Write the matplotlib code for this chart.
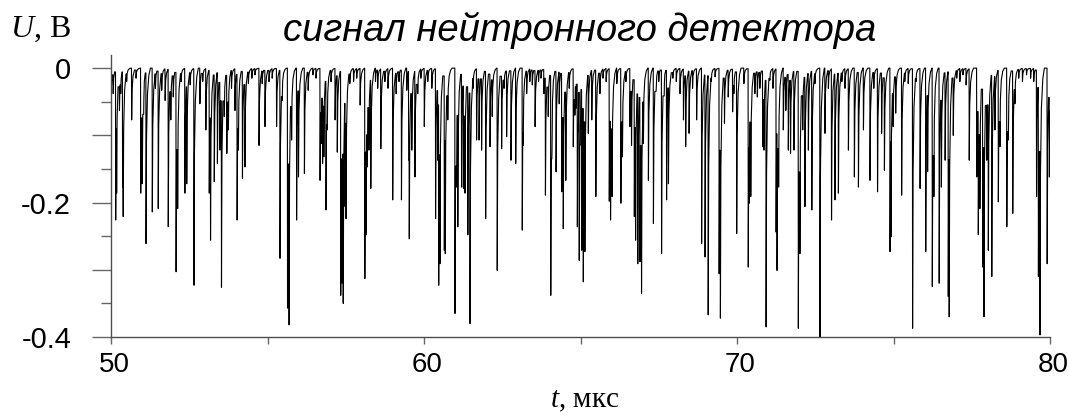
import matplotlib
matplotlib.use('Agg')
import matplotlib.pyplot as plt
import matplotlib.transforms as mtransforms
import numpy as np

plt.rcParams['font.family'] = ['Liberation Sans', 'DejaVu Sans']
plt.rcParams['mathtext.fontset'] = 'custom'
plt.rcParams['mathtext.rm'] = 'Liberation Serif'
plt.rcParams['mathtext.it'] = 'Liberation Serif:italic'

# ===== данные: моменты импульсов (мкс) и их амплитуды (В) =====
spike_t = [
    50.00, 50.07, 50.15, 50.18, 50.27, 50.31, 50.37, 50.39, 50.66, 50.95,
    51.00, 51.05, 51.12, 51.32, 51.51, 51.62, 51.73, 51.83, 51.91, 51.99,
    52.08, 52.13, 52.36, 52.42, 52.65, 52.84,
    53.03, 53.14, 53.18, 53.30, 53.40, 53.48, 53.53, 53.62, 53.70, 53.75,
    53.96, 54.03, 54.07, 54.20, 54.28, 54.39, 54.73, 54.83, 54.92, 55.29,
    55.40, 55.47, 55.64, 55.69, 55.77, 55.93, 55.99, 56.18, 56.30,
    56.68, 56.72, 56.76, 56.80, 56.87, 56.91, 57.16, 57.23, 57.34, 57.39,
    57.42, 57.48, 57.51, 57.63, 57.75, 57.85, 57.96, 58.11, 58.15, 58.19,
    58.24, 58.30, 58.45, 58.62, 58.75, 58.85, 59.00, 59.11, 59.28, 59.45,
    59.51, 59.53, 59.61, 59.71,
    59.80, 60.01, 60.37, 60.44, 60.47, 60.51, 60.65, 60.68, 60.76, 60.99,
    61.04, 61.08, 61.20, 61.26, 61.31, 61.40, 61.47, 61.68, 61.76, 61.84,
    61.97, 62.11, 62.18, 62.34, 62.48, 62.64, 62.78, 62.93, 63.14,
    63.17, 63.28, 63.55, 63.83, 63.88, 63.97, 64.05, 64.09, 64.22, 64.32,
    64.40, 64.45, 64.53, 64.77, 64.82, 64.85, 64.90, 64.93, 64.96, 65.00,
    65.04, 65.07, 65.09, 65.12, 65.14, 65.25, 65.36, 65.49, 65.62, 65.92,
    65.96, 66.01, 66.16, 66.29, 66.34,
    66.58, 66.63, 66.72, 66.76, 66.83, 66.90, 66.95, 67.01, 67.17, 67.33,
    67.59, 67.68, 67.75, 67.81, 68.18, 68.29, 68.36, 68.47, 68.71, 68.87,
    68.98, 69.08, 69.30, 69.43, 69.47, 69.60, 69.72,
    69.86, 69.90, 69.99, 70.22, 70.36, 70.39, 70.44, 70.57, 70.65, 70.82,
    70.86, 70.93, 71.05, 71.25, 71.28, 71.33, 71.48, 71.56, 71.64, 71.71,
    71.82, 71.96, 72.01, 72.10, 72.17, 72.28, 72.39, 72.49, 72.65, 72.81,
    72.92, 73.02, 73.13,
    73.24, 73.56, 73.75, 73.88, 74.04, 74.25, 74.49, 74.62, 74.71, 74.89,
    74.92, 74.99, 75.07, 75.26, 75.47, 75.61, 75.85, 76.03, 76.09, 76.24,
    76.29, 76.46, 76.53,
    76.65, 76.75, 76.78, 76.91, 77.42, 77.66, 77.71, 77.76, 77.85, 77.89,
    77.98, 78.03, 78.14, 78.24, 78.35, 78.40, 78.62, 78.67, 78.81, 78.88,
    79.57, 79.63, 79.68, 79.91, 79.98,
]
spike_u = [
    -0.067, -0.038, -0.226, -0.186, -0.063, -0.038, -0.177, -0.221, -0.077, -0.186,
    -0.172, -0.048, -0.261, -0.214, -0.209, -0.033, -0.048, -0.236, -0.077, -0.043,
    -0.303, -0.209, -0.186, -0.172, -0.323, -0.053,
    -0.092, -0.186, -0.256, -0.169, -0.142, -0.122, -0.326, -0.072, -0.127, -0.092,
    -0.063, -0.226, -0.122, -0.164, -0.147, -0.023, -0.115, -0.023, -0.087, -0.087,
    -0.283, -0.048, -0.357, -0.382, -0.107, -0.226, -0.162, -0.157, -0.033,
    -0.167, -0.112, -0.142, -0.132, -0.211, -0.092, -0.077, -0.125, -0.338, -0.320,
    -0.350, -0.206, -0.224, -0.023, -0.020, -0.015, -0.055, -0.313, -0.248, -0.147,
    -0.122, -0.179, -0.020, -0.120, -0.020, -0.030, -0.196, -0.038, -0.196, -0.033,
    -0.137, -0.254, -0.122, -0.162,
    -0.038, -0.087, -0.224, -0.137, -0.323, -0.291, -0.271, -0.276, -0.077, -0.365,
    -0.177, -0.236, -0.177, -0.179, -0.186, -0.248, -0.380, -0.107, -0.107, -0.122,
    -0.224, -0.117, -0.072, -0.301, -0.120, -0.102, -0.137, -0.142, -0.241,
    -0.115, -0.038, -0.087, -0.038, -0.189, -0.072, -0.338, -0.122, -0.154, -0.053,
    -0.184, -0.239, -0.167, -0.117, -0.070, -0.060, -0.236, -0.090, -0.286, -0.080,
    -0.271, -0.060, -0.318, -0.080, -0.273, -0.097, -0.077, -0.191, -0.038, -0.198,
    -0.226, -0.191, -0.023, -0.201, -0.132,
    -0.087, -0.115, -0.221, -0.256, -0.291, -0.288, -0.335, -0.112, -0.167, -0.231,
    -0.276, -0.023, -0.196, -0.172, -0.038, -0.077, -0.117, -0.097, -0.077, -0.261,
    -0.281, -0.367, -0.013, -0.306, -0.372, -0.082, -0.043,
    -0.065, -0.038, -0.246, -0.023, -0.296, -0.201, -0.191, -0.038, -0.043, -0.117,
    -0.122, -0.385, -0.018, -0.244, -0.301, -0.177, -0.092, -0.063, -0.122, -0.127,
    -0.122, -0.387, -0.276, -0.092, -0.206, -0.122, -0.211, -0.023, -0.400, -0.097,
    -0.030, -0.226, -0.196,
    -0.186, -0.122, -0.162, -0.177, -0.092, -0.167, -0.184, -0.097, -0.152, -0.273,
    -0.251, -0.087, -0.067, -0.189, -0.023, -0.387, -0.179, -0.273, -0.154, -0.325,
    -0.191, -0.320, -0.177,
    -0.137, -0.340, -0.370, -0.100, -0.137, -0.162, -0.248, -0.209, -0.296, -0.370,
    -0.137, -0.271, -0.310, -0.092, -0.199, -0.117, -0.236, -0.107, -0.216, -0.053,
    -0.191, -0.310, -0.397, -0.291, -0.162,
]

# мелкие импульсы у нулевой линии (между крупными)
small_t = [
    50.50, 50.80, 51.42, 52.24, 52.53, 52.93, 53.85, 54.50, 54.60, 55.05,
    55.15, 56.45, 56.55, 57.03, 58.52, 59.20, 59.90, 60.12, 60.25, 61.57,
    62.56, 63.38, 63.46, 63.66, 63.74, 64.64, 65.72, 65.82, 66.45, 67.42,
    67.50, 67.95, 68.06, 68.58, 69.18, 70.73, 71.15, 73.35, 73.45, 74.37,
    75.36, 75.72, 77.02, 77.12, 77.22, 77.32, 79.00, 79.12, 79.25, 79.38,
    79.48,
]
small_u = [
    -0.020, -0.015, -0.030, -0.020, -0.025, -0.020, -0.030, -0.015, -0.010, -0.020,
    -0.015, -0.010, -0.015, -0.020, -0.030, -0.020, -0.015, -0.020, -0.030, -0.030,
    -0.030, -0.020, -0.025, -0.020, -0.015, -0.030, -0.015, -0.020, -0.020, -0.030,
    -0.020, -0.015, -0.020, -0.030, -0.020, -0.030, -0.030, -0.020, -0.030, -0.030,
    -0.020, -0.020, -0.015, -0.020, -0.010, -0.025, -0.015, -0.020, -0.010, -0.015,
    -0.020,
]

x_ticks = [50, 55, 60, 65, 70, 75, 80]
x_labels = ['50', '', '60', '', '70', '', '80']
y_ticks = [0, -0.1, -0.2, -0.3, -0.4]
y_labels = ['0', '', '-0.2', '', '-0.4']
y_minor = [-0.05, -0.15, -0.25, -0.35]

# ---- ломаная сигнала: резкий спад, затем медленное восстановление к нулю ----
all_t = np.array(spike_t + small_t)
all_u = np.array(spike_u + small_u)
order = np.argsort(all_t)
all_t, all_u = all_t[order], all_u[order]

pts_t, pts_u = [], []
n = len(all_t)
for i in range(n):
    t0, u0 = all_t[i], all_u[i]
    limit = all_t[i + 1] - 0.006 if i + 1 < n else 80.0
    if pts_t and pts_t[-1] < t0 - 0.006:
        pts_t.append(t0 - 0.006)
        pts_u.append(pts_u[-1])
    seg = [(t0, u0), (t0 + 0.015, 0.4 * u0), (t0 + 0.045, 0.15 * u0),
           (t0 + 0.09, 0.04 * u0), (t0 + 0.14, 0.0)]
    for k, (tt, uu) in enumerate(seg):
        if k == 0 or tt < limit:
            pts_t.append(min(tt, 80.0))
            pts_u.append(uu)
pts_t.append(80.0)
pts_u.append(pts_u[-1])

fig = plt.figure(figsize=(10.69, 4.15), dpi=100)
ax = fig.add_axes([111 / 1069, 78 / 415, 939 / 1069, 282 / 415])
ax.plot(pts_t, pts_u, color='black', linewidth=0.8)

ax.set_xlim(50, 80)
ax.set_ylim(-0.4, 0.0195)
for s in ['top', 'right']:
    ax.spines[s].set_visible(False)
for s in ['left', 'bottom']:
    ax.spines[s].set_color('0.3')
    ax.spines[s].set_linewidth(1.0)

ax.set_xticks(x_ticks)
ax.set_xticklabels(x_labels)
ax.set_yticks(y_ticks)
ax.set_yticklabels(y_labels)
ax.set_yticks(y_minor, minor=True)
ax.tick_params(axis='x', direction='out', length=5, width=1, color='0.4',
               labelsize=20, pad=6)
ax.tick_params(axis='y', which='major', direction='out', length=13.7, width=1,
               color='0.4', labelsize=21, pad=15)
ax.tick_params(axis='y', which='minor', direction='out', length=7.2, width=1, color='0.4')
shift = mtransforms.ScaledTranslation(3 / 100, 0, fig.dpi_scale_trans)
for lab in ax.get_xticklabels():
    lab.set_transform(lab.get_transform() + shift)

fig.text(580 / 1069, 1 - 41 / 415, 'сигнал нейтронного детектора', ha='center',
         va='baseline', fontsize=27.5, style='italic')
fig.text(10 / 1069, 1 - 37 / 415, r'$U$, В', ha='left', va='baseline',
         fontsize=23, family='Liberation Serif')
fig.text(585 / 1069, 1 - 407 / 415, r'$t$, мкс', ha='center', va='baseline',
         fontsize=21, family='Liberation Serif')

fig.savefig('out.png', dpi=100)
